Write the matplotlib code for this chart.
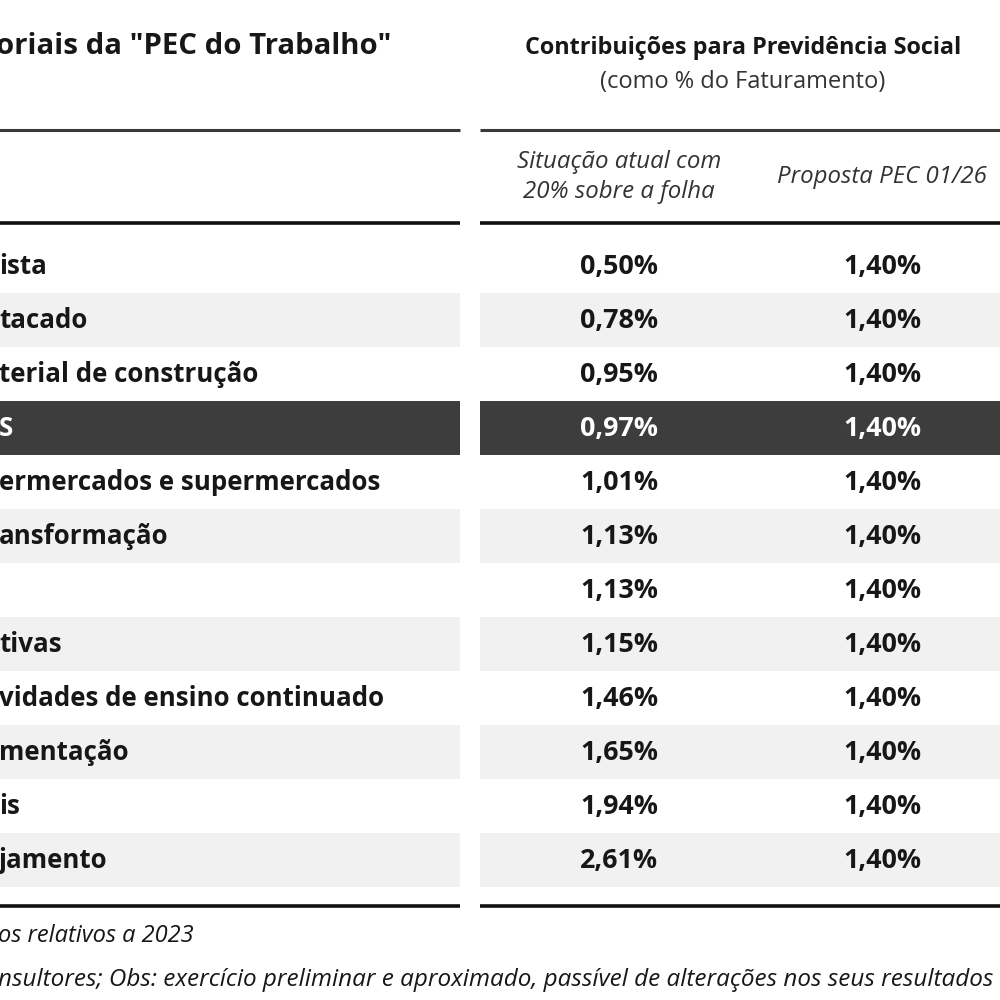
import matplotlib
matplotlib.use("Agg")
import matplotlib.pyplot as plt
from matplotlib.patches import Rectangle

plt.rcParams['font.family'] = ['Open Sans', 'DejaVu Sans']

# data (left part of the picture is cropped, so labels are cut)
title = 'oriais da "PEC do Trabalho"'
group_header = "Contribuições para Previdência Social"
group_sub = "(como % do Faturamento)"
col_headers = ["Situação atual com\n20% sobre a folha", "Proposta PEC 01/26"]
sectors = ["ista", "tacado", "terial de construção", "S",
           "ermercados e supermercados", "ansformação", "", "tivas",
           "vidades de ensino continuado", "mentação", "is", "jamento"]
atual = [0.50, 0.78, 0.95, 0.97, 1.01, 1.13, 1.13, 1.15, 1.46, 1.65, 1.94, 2.61]
proposta = [1.40] * 12
highlight = 3
footnotes = ["os relativos a 2023",
             "nsultores; Obs: exercício preliminar e aproximado, passível de alterações nos seus resultados"]

TXT = "#171717"
LIGHT = "#f1f1f1"
DARK = "#3d3d3d"


def pct(v):
    return f"{v:.2f}%".replace(".", ",")


fig = plt.figure(figsize=(10, 10), dpi=100)
ax = fig.add_axes([0, 0, 1, 1])
ax.set_xlim(0, 1000)
ax.set_ylim(1000, 0)
ax.axis("off")

# panels: left (labels) and right (values)
left_x0, left_x1 = -10, 460
right_x0, right_x1 = 480, 1010
row_top, row_h = 239, 54
col_x = [619, 882]

# header texts
ax.text(-4, 46, title, fontsize=21.2, fontweight="bold", color=TXT, ha="left", va="center")
ax.text(743, 48, group_header, fontsize=16.8, fontweight="bold", color=TXT, ha="center", va="center")
ax.text(743, 82, group_sub, fontsize=17, color="#333333", ha="center", va="center")
ax.text(col_x[0], 177, col_headers[0], fontsize=17.3, style="italic", color="#333333",
        ha="center", va="center", linespacing=1.38)
ax.text(col_x[1], 177, col_headers[1], fontsize=17.3, style="italic", color="#333333",
        ha="center", va="center")

# rule lines
for y, lw, c in [(130, 2.2, "#3a3a3a"), (223, 2.6, "#111111"), (906, 2.6, "#111111")]:
    ax.plot([left_x0, left_x1], [y, y], color=c, lw=lw, solid_capstyle="butt")
    ax.plot([right_x0, right_x1], [y, y], color=c, lw=lw, solid_capstyle="butt")

# rows
for i, (name, a, p) in enumerate(zip(sectors, atual, proposta)):
    y0 = row_top + i * row_h
    yc = y0 + row_h / 2
    if i == highlight:
        face, tc = DARK, "white"
    elif i % 2 == 1:
        face, tc = LIGHT, TXT
    else:
        face, tc = None, TXT
    if face:
        ax.add_patch(Rectangle((left_x0, y0), left_x1 - left_x0, row_h, facecolor=face, edgecolor="none"))
        ax.add_patch(Rectangle((right_x0, y0), right_x1 - right_x0, row_h, facecolor=face, edgecolor="none"))
    ax.text(-1, yc + 1, name, fontsize=18.6, fontweight="bold", color=tc, ha="left", va="center")
    ax.text(col_x[0], yc + 1, pct(a), fontsize=19.4, fontweight="bold", color=tc, ha="center", va="center")
    ax.text(col_x[1], yc + 1, pct(p), fontsize=19.4, fontweight="bold", color=tc, ha="center", va="center")

# footnotes
ax.text(-2, 936, footnotes[0], fontsize=17, style="italic", color=TXT, ha="left", va="center")
ax.text(-2, 980, footnotes[1], fontsize=17.5, style="italic", color=TXT, ha="left", va="center")

fig.savefig("out.png", dpi=100)
